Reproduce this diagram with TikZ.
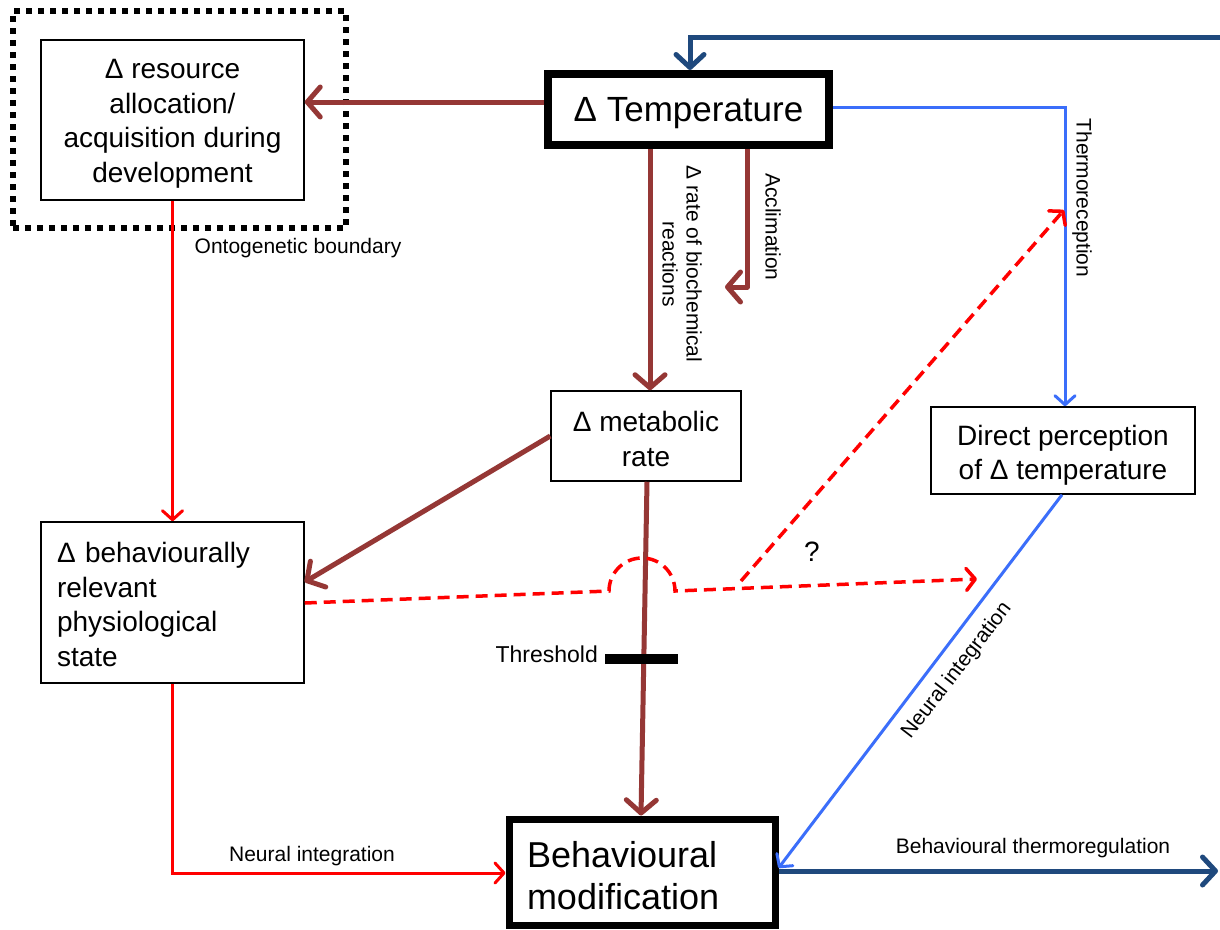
\documentclass[tikz,border=0pt]{standalone}
\usepackage{fontspec}
\setmainfont{Liberation Sans}
\usetikzlibrary{arrows.meta}
\definecolor{brn}{RGB}{149,55,53}
\definecolor{dblue}{RGB}{31,73,125}
\definecolor{lblue}{RGB}{59,110,250}
\definecolor{rd}{RGB}{255,0,0}
\begin{document}
\begin{tikzpicture}[x=1pt,y=-1pt,
  box/.style={draw,line width=1.5pt,fill=white,inner sep=0pt},
  boxtext/.style={inner sep=0pt,align=center,font=\fontsize{28}{34.5}\selectfont},
  lab/.style={font=\fontsize{21}{24}\selectfont,inner sep=0pt,align=center},
  brarrow/.style={draw=brn,line width=5pt,line join=round,-{Straight Barb[length=13pt,width=30pt,round]}},
  dbarrow/.style={draw=dblue,line width=5pt,-{Straight Barb[length=13pt,width=28pt,round]}},
  lbarrow/.style={draw=lblue,line width=3pt,-{Straight Barb[length=9pt,width=20pt,round]}},
  rdarrow/.style={draw=rd,line width=3pt,-{Straight Barb[length=9pt,width=20pt,round]}},
  rddash/.style={draw=rd,line width=3.5pt,dash pattern=on 12pt off 7pt,-{Straight Barb[length=9pt,width=22pt,round]}}
]
\useasboundingbox[fill=white] (0,0) rectangle (1220,929);

% dotted ontogenetic boundary
\node (onto) [draw,line width=6pt,dash pattern=on 6pt off 6pt,minimum width=333,minimum height=217,inner sep=0pt] at (179.5,119.5) {};

% boxes
\node (res) [box,minimum width=263,minimum height=160] at (172.5,120) {};
\node (rest) [boxtext] at ([yshift=-4pt]res.center)
  {Δ resource\\allocation/\\acquisition during\\development};
\node (temp) [box,line width=8pt,minimum width=281,minimum height=71] at (688.5,109.5) {};
\node (tempt) [boxtext,font=\fontsize{35}{40}\selectfont] at ([yshift=-4pt]temp.center) {Δ Temperature};
\node (met) [box,minimum width=190,minimum height=90] at (646,436) {};
\node (mett) [boxtext] at ([yshift=-3pt]met.center) {Δ metabolic\\rate};
\node (beh) [box,minimum width=263,minimum height=161] at (172.5,602.5) {};
\node (beht) [boxtext,align=left,text width=231] at ([yshift=-2pt]beh.center)
  {Δ behaviourally\\relevant\\physiological\\state};
\node (dp) [box,minimum width=264,minimum height=87] at (1063,450.5) {};
\node (dpt) [boxtext] at ([yshift=-5pt]dp.center) {Direct perception\\of Δ temperature};
\node (bm) [box,line width=7pt,minimum width=266,minimum height=106] at (642,872) {};
\node (bmt) [boxtext,align=left,text width=230,font=\fontsize{36}{42}\selectfont] at ([yshift=-4pt]bm.center)
  {Behavioural\\modification};

% free ends
\coordinate (topR) at (1222,37);
\coordinate (acc) at (725,287);
\coordinate (accc) at (747,287);
\coordinate (thR) at (1218,871);
\coordinate (hop1) at (609,591);
\coordinate (qend) at (977,579);
\coordinate (d1) at (741,581);
\coordinate (d2) at (1064,210);

% brown connectors
\draw[brarrow] (temp.west |- 0,102) -- (res.east |- 0,102);
\draw[brarrow] (temp.south -| 650,0) -- (met.north -| 650,0);
\draw[brarrow] (temp.south -| 747,0) -- (accc) -- (acc);
\draw[brarrow] (met.west |- 0,436) -- (beh.east |- 0,582);
\draw[brarrow] (met.south -| 647,0) -- (bm.north -| 641,0);

% blue connectors
\draw[dbarrow] (topR) -| (temp.north -| 690,0);
\draw[lbarrow] (temp.east |- 0,107) -| (dp.north -| 1065,0);
\draw[lbarrow] (dp.south -| 1062,0) -- (bm.east |- 0,868);
\draw[dbarrow] (bm.east |- 0,871) -- (thR);

% red connectors
\draw[rdarrow] (res.south) -- (beh.north);
\draw[rdarrow] (beh.south) |- (bm.west |- 0,873);
\draw[rddash] (beh.east |- 0,603) -- (hop1) arc[start angle=180,end angle=360,radius=33] -- (qend);
\draw[rddash] (d1) -- (d2);

% threshold
\node (thr) [fill=black,minimum width=73,minimum height=10,inner sep=0pt] at (641.5,659) {};
\node (thrl) [lab,anchor=east,font=\fontsize{23}{26}\selectfont] at (598,654) {Threshold};

% labels
\node (l1) [lab] at (298,248) {Ontogenetic boundary};
\node (l2) [lab,rotate=-90] at (682,264) {Δ rate of biochemical\\reactions};
\node (l3) [lab,rotate=-90] at (773,227) {Acclimation};
\node (l4) [lab,rotate=-90] at (1082,198) {Thermoreception};
\node (l5) [lab,font=\fontsize{28}{30}\selectfont] at (812,552) {?};
\node (l6) [lab,rotate=52.4] at (957,671) {Neural integration};
\node (l7) [lab] at (312,856) {Neural integration};
\node (l8) [lab] at (1033,848) {Behavioural thermoregulation};
\end{tikzpicture}
\end{document}
